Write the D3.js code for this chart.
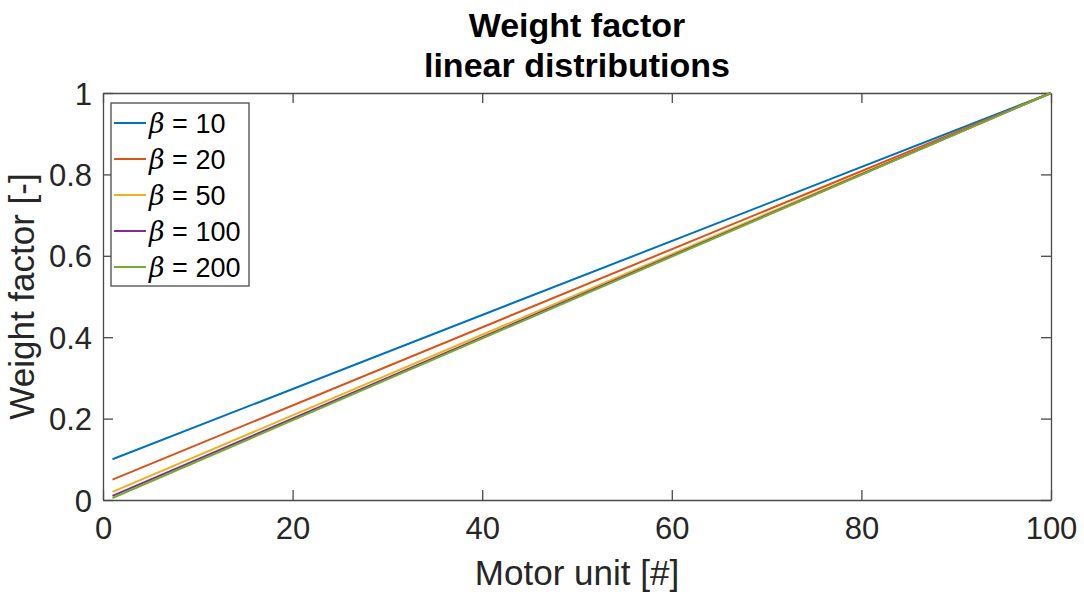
<!DOCTYPE html>
<meta charset="utf-8">
<style>
body { margin: 0; background: #fff; }
text { font-family: "Liberation Sans", Arial, sans-serif; fill: #262626; }
.axis path, .axis line { stroke: #4a4a4a; }
</style>
<div id="chart"></div>
<script src="https://d3js.org/d3.v7.min.js"></script>
<script>

// data: every curve is a straight line from unit 1 to unit 100
var motorUnits = [1, 100];
var betas = [10, 20, 50, 100, 200];
var startWeights = [0.1, 0.05, 0.02, 0.01, 0.005];
var endWeights = [1, 1, 1, 1, 1];
var xTicks = [0, 20, 40, 60, 80, 100];
var yTicks = [0, 0.2, 0.4, 0.6, 0.8, 1];
var colors = ["#0072BD", "#D95319", "#EDB120", "#7E2F8E", "#77AC30"];

var svg = d3.select("#chart").append("svg")
    .attr("width", 1084)
    .attr("height", 597),
  margin = {top: 93, right: 33, bottom: 97, left: 103},
  width = 1084 - margin.left - margin.right,
  height = 597 - margin.top - margin.bottom,
  g = svg.append("g").attr("transform", "translate(" + margin.left + "," + margin.top + ")");

var x = d3.scaleLinear().domain([0, 100]).range([0, width]);
var y = d3.scaleLinear().domain([0, 1]).range([height, 0]);
var z = d3.scaleOrdinal().domain(betas).range(colors);

var series = betas.map(function(b, i) {
  return {beta: b, values: motorUnits.map(function(u, j) {
    return {x: u, y: j == 0 ? startWeights[i] : endWeights[i]};
  })};
});

// axes, ticks pointing inward, mirrored on top/right
g.append("g")
    .attr("class", "axis")
    .attr("transform", "translate(0," + height + ")")
    .call(d3.axisBottom(x).tickValues(xTicks).tickSizeInner(-10).tickSizeOuter(0).tickPadding(17))
    .selectAll("text")
      .attr("font-size", 31);

g.append("g")
    .attr("class", "axis")
    .call(d3.axisLeft(y).tickValues(yTicks).tickFormat(d3.format("")).tickSizeInner(-10).tickSizeOuter(0).tickPadding(11))
    .selectAll("text")
      .attr("font-size", 31)
      .attr("dy", "0.36em");

g.append("g")
    .attr("class", "axis")
    .call(d3.axisTop(x).tickValues(xTicks).tickSizeInner(-10).tickSizeOuter(0).tickFormat(""));

g.append("g")
    .attr("class", "axis")
    .attr("transform", "translate(" + width + ",0)")
    .call(d3.axisRight(y).tickValues(yTicks).tickSizeInner(-10).tickSizeOuter(0).tickFormat(""));

g.selectAll(".axis .domain").attr("stroke-width", 1.3);
g.selectAll(".axis .tick line").attr("stroke-width", 1.3);

var line = d3.line()
    .x(function(d) { return x(d.x); })
    .y(function(d) { return y(d.y); });

g.append("g")
  .selectAll("path")
  .data(series)
  .enter().append("path")
    .attr("fill", "none")
    .attr("stroke", function(d) { return z(d.beta); })
    .attr("stroke-width", 2)
    .attr("d", function(d) { return line(d.values); });

// title
svg.append("text")
    .attr("x", margin.left + width / 2)
    .attr("y", 37)
    .attr("text-anchor", "middle")
    .attr("font-size", 34)
    .attr("font-weight", "bold")
    .style("fill", "#000")
    .text("Weight factor");
svg.append("text")
    .attr("x", margin.left + width / 2)
    .attr("y", 77)
    .attr("text-anchor", "middle")
    .attr("font-size", 34)
    .attr("font-weight", "bold")
    .style("fill", "#000")
    .text("linear distributions");

svg.append("text")
    .attr("x", margin.left + width / 2)
    .attr("y", 585)
    .attr("text-anchor", "middle")
    .attr("font-size", 35)
    .text("Motor unit [#]");

svg.append("text")
    .attr("transform", "translate(34," + (margin.top + height / 2) + ") rotate(-90)")
    .attr("text-anchor", "middle")
    .attr("font-size", 35)
    .text("Weight factor [-]");

// legend
var legend = g.append("g")
    .attr("transform", "translate(8,10)");

legend.append("rect")
    .attr("width", 138)
    .attr("height", 183)
    .attr("fill", "#fff")
    .attr("stroke", "#4a4a4a")
    .attr("stroke-width", 1.3);

var item = legend.selectAll(".item")
  .data(series)
  .enter().append("g")
    .attr("class", "item")
    .attr("transform", function(d, i) { return "translate(0," + (20 + i * 36) + ")"; });

item.append("line")
    .attr("x1", 3)
    .attr("x2", 35)
    .attr("stroke", function(d) { return z(d.beta); })
    .attr("stroke-width", 2);

var label = item.append("text")
    .attr("x", 38)
    .attr("dy", "0.36em")
    .attr("font-size", 27)
    .style("fill", "#000");
label.append("tspan")
    .attr("font-family", "'DejaVu Serif', serif")
    .attr("font-style", "italic")
    .text("\u03B2");
label.append("tspan")
    .text(function(d) { return " = " + d.beta; });

</script>
